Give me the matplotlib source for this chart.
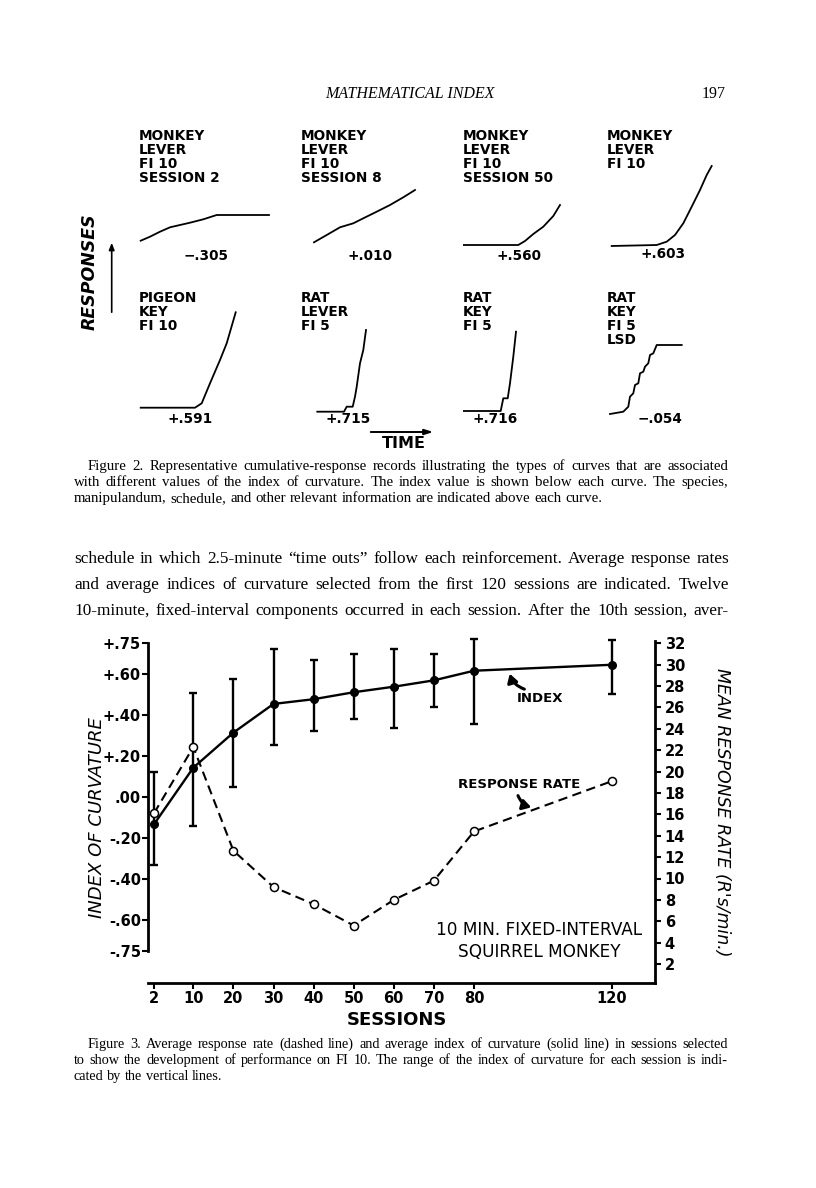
import numpy as np
import matplotlib
matplotlib.use("Agg")
import matplotlib.pyplot as plt
from matplotlib.patches import FancyArrowPatch

# ------------------------------------------------------------------ data
# Figure 3
sessions = [2, 10, 20, 30, 40, 50, 60, 70, 80, 120]
index_mean = [-0.133, 0.143, 0.314, 0.454, 0.477, 0.511, 0.538, 0.569, 0.616, 0.645]
index_high = [0.12, 0.506, 0.576, 0.72, 0.668, 0.696, 0.72, 0.696, 0.773, 0.766]
index_low = [-0.33, -0.14, 0.05, 0.254, 0.323, 0.379, 0.335, 0.44, 0.356, 0.502]
response_rate = [16.1, 22.3, 12.6, 9.2, 7.6, 5.6, 8.0, 9.8, 14.4, 19.1]

x_tick_labels = ["2", "10", "20", "30", "40", "50", "60", "70", "80", "120"]
left_ticks = [0.75, 0.60, 0.40, 0.20, 0.0, -0.20, -0.40, -0.60, -0.75]
left_tick_labels = ["+.75", "+.60", "+.40", "+.20", ".00", "-.20", "-.40", "-.60", "-.75"]
right_ticks = [2, 4, 6, 8, 10, 12, 14, 16, 18, 20, 22, 24, 26, 28, 30, 32]
right_tick_labels = [str(v) for v in right_ticks]

# Figure 2: cumulative records (time units, response units)
curve_1_t = [1.7, 11, 21, 31, 41, 51, 64.3, 77.7, 130]
curve_1_r = [5.3, 9.3, 14.3, 18.7, 21, 23.3, 26.7, 31, 31]
curve_2_t = [13, 25.7, 39, 52.3, 62.3, 75.7, 89, 102.3, 114]
curve_2_r = [3.7, 11, 18.7, 22.7, 27.7, 34.3, 41, 48.7, 56]
curve_3_t = [0.3, 55.3, 62, 70.3, 80.3, 90.3, 97]
curve_3_r = [1, 1, 5, 12, 19.3, 30, 41]
curve_4_t = [4.7, 49.7, 59.7, 68, 76.3, 84.7, 93, 99.7, 104.7]
curve_4_r = [0, 1, 4.3, 11, 22.7, 39.3, 56, 71, 80]
curve_5_t = [1.7, 56, 62.7, 71, 81, 87.7, 96.7]
curve_5_r = [4.3, 4.3, 8.7, 28.7, 52, 68.7, 99.7]
curve_6_t = [16.3, 43, 45.7, 51.7, 54, 55.7, 59, 62.3, 65]
curve_6_r = [0.3, 0.3, 5.3, 5.3, 15.3, 25.3, 48.7, 62, 82]
curve_7_t = [0.3, 37.7, 40.3, 44.7, 47, 50.3, 53]
curve_7_r = [1, 1, 13.7, 13.7, 28.7, 55.3, 80.3]
curve_8_t = [3, 16.3, 21.3, 23, 26.3, 28, 31.3, 33, 36.3, 38, 41.3, 43, 46.3, 49.7, 74.7]
curve_8_r = [-2, 0.3, 5.3, 15.3, 18.7, 27, 28.7, 38.7, 40.3, 45.3, 48.7, 57, 58.7, 67, 67]

panel_titles = [
    ["MONKEY", "LEVER", "FI 10", "SESSION 2"],
    ["MONKEY", "LEVER", "FI 10", "SESSION 8"],
    ["MONKEY", "LEVER", "FI 10", "SESSION 50"],
    ["MONKEY", "LEVER", "FI 10"],
    ["PIGEON", "KEY", "FI 10"],
    ["RAT", "LEVER", "FI 5"],
    ["RAT", "KEY", "FI 5"],
    ["RAT", "KEY", "FI 5", "LSD"],
]
panel_values = ["\u2212.305", "+.010", "+.560", "+.603", "+.591", "+.715", "+.716", "\u2212.054"]

header_title = "MATHEMATICAL INDEX"
page_number = "197"
caption_2 = [
    "Figure 2. Representative cumulative-response records illustrating the types of curves that are associated",
    "with different values of the index of curvature. The index value is shown below each curve. The species,",
    "manipulandum, schedule, and other relevant information are indicated above each curve.",
]
body_lines = [
    "schedule in which 2.5-minute \u201ctime outs\u201d follow each reinforcement. Average response rates",
    "and average indices of curvature selected from the first 120 sessions are indicated. Twelve",
    "10-minute, fixed-interval components occurred in each session. After the 10th session, aver-",
]
caption_3 = [
    "Figure 3. Average response rate (dashed line) and average index of curvature (solid line) in sessions selected",
    "to show the development of performance on FI 10. The range of the index of curvature for each session is indi-",
    "cated by the vertical lines.",
]

# ------------------------------------------------------------------ layout helpers
W, H = 816, 1188
fig = plt.figure(figsize=(W / 100, H / 100), dpi=100)
fig.patch.set_facecolor("white")
renderer = fig.canvas.get_renderer()

SANS = "DejaVu Sans"
SERIF = "Liberation Serif"


def fx(x):
    return x / W


def fy(y):
    return 1 - y / H


def ptext(x, y, s, **kw):
    return fig.text(fx(x), fy(y), s, **kw)


def measure(s, size):
    t = fig.text(0, 0, s, fontsize=size, family=SERIF)
    w = t.get_window_extent(renderer).width
    t.remove()
    return w


def text_block(lines, x_first, x_rest, x_right, y0, dy, n_justified, fill=0.965):
    # choose the size so the justified lines nearly fill the measure
    base = 10.0
    ratios = []
    for i in range(n_justified):
        x0 = x_first if i == 0 else x_rest
        ratios.append(measure(lines[i], base) / (x_right - x0))
    size = base * fill / max(ratios)
    sp = measure("a a", size) - measure("aa", size)
    for i, line in enumerate(lines):
        x0 = x_first if i == 0 else x_rest
        words = line.split(" ")
        arts = [fig.text(0, 0, w, fontsize=size, family=SERIF, va="baseline", ha="left")
                for w in words]
        widths = [a.get_window_extent(renderer).width for a in arts]
        if i >= n_justified or len(arts) < 2:
            gap = sp
        else:
            gap = (x_right - x0 - sum(widths)) / (len(arts) - 1)
        x = x0
        for a, w in zip(arts, widths):
            a.set_position((fx(x), fy(y0 + i * dy)))
            x += w + gap


# ------------------------------------------------------------------ page header
ptext(410, 98, header_title, fontsize=11.5, family=SERIF, style="italic", ha="center", va="baseline")
ptext(726, 98, page_number, fontsize=11.5, family=SERIF, ha="right", va="baseline")

# ------------------------------------------------------------------ Figure 2
curves = [
    (curve_1_t, curve_1_r), (curve_2_t, curve_2_r), (curve_3_t, curve_3_r), (curve_4_t, curve_4_r),
    (curve_5_t, curve_5_r), (curve_6_t, curve_6_r), (curve_7_t, curve_7_r), (curve_8_t, curve_8_r),
]
col_left = [139, 301, 463, 607]
row_base = [246, 412]
row_title_top = [136, 298]
value_x = [206, 370, 519, 663, 190, 348, 495, 660]
value_y = [256, 256, 256, 254, 419, 419, 419, 419]

for i, (t, r) in enumerate(curves):
    L = col_left[i % 4]
    B = row_base[i // 4]
    pax = fig.add_axes([fx(L), fy(B + 5), 140 / W, 110 / H])
    pax.plot(t, r, color="black", lw=1.3)
    pax.set_xlim(0, 140)
    pax.set_ylim(-5, 105)
    pax.axis("off")
    for k, line in enumerate(panel_titles[i]):
        ptext(L, row_title_top[i // 4] + 14 * k, line, fontsize=9.8, family=SANS,
              weight="bold", ha="left", va="center")
    ptext(value_x[i], value_y[i], panel_values[i], fontsize=9.8, family=SANS,
          weight="bold", ha="center", va="center")

ptext(90, 272, "RESPONSES", fontsize=12.5, family=SANS, weight="bold", style="italic",
      rotation=90, ha="center", va="center")
fig.add_artist(FancyArrowPatch((fx(111.7), fy(315)), (fx(111.7), fy(240)), transform=fig.transFigure,
                               arrowstyle="-|>,head_length=4,head_width=1.6", lw=1.2, color="black"))
fig.add_artist(FancyArrowPatch((fx(368), fy(432)), (fx(436), fy(432)), transform=fig.transFigure,
                               arrowstyle="-|>,head_length=5,head_width=1.6", lw=1.4, color="black"))
ptext(404, 444, "TIME", fontsize=11.5, family=SANS, weight="bold", ha="center", va="center")

text_block(caption_2, 88, 74, 728, 470, 16, 2)
text_block(body_lines, 74, 74, 729, 563, 26, 3, fill=0.975)

# ------------------------------------------------------------------ Figure 3
AX_L, AX_R, AX_T, AX_B = 148, 655, 635, 983
ax = fig.add_axes([fx(AX_L), fy(AX_B), (AX_R - AX_L) / W, (AX_B - AX_T) / H])

# session axis: printed spacing is not uniform -> piecewise-linear scale
scale_sessions = [2, 10, 80, 120]
scale_dist = [6.0, 45.3, 326.0, 463.7]
s0 = (scale_dist[1] - scale_dist[0]) / (scale_sessions[1] - scale_sessions[0])
s1 = (scale_dist[-1] - scale_dist[-2]) / (scale_sessions[-1] - scale_sessions[-2])
S_ext = [scale_sessions[0] - 1e4] + scale_sessions + [scale_sessions[-1] + 1e4]
P_ext = [scale_dist[0] - 1e4 * s0] + scale_dist + [scale_dist[-1] + 1e4 * s1]


def fwd(x):
    return np.interp(x, S_ext, P_ext)


def inv(p):
    return np.interp(p, P_ext, S_ext)


ax.set_xscale("function", functions=(fwd, inv))
ax.set_xlim(inv(0.0), inv(AX_R - AX_L))
left_px_per_unit = 205.0
left_zero_px = 797.0
ax.set_ylim((left_zero_px - AX_B) / left_px_per_unit, (left_zero_px - AX_T) / left_px_per_unit)

mean = np.array(index_mean)
yerr = [mean - np.array(index_low), np.array(index_high) - mean]
ax.errorbar(sessions, index_mean, yerr=yerr, fmt="-o", color="black", lw=1.7, elinewidth=1.7,
            capsize=3.0, capthick=1.7, ms=5.5, zorder=3)

ax2 = ax.twinx()
right_px_per_unit = 10.69
right_zero_px = 985.4
ax2.set_ylim((right_zero_px - AX_B) / right_px_per_unit, (right_zero_px - AX_T) / right_px_per_unit)
ax2.plot(sessions, response_rate, color="black", lw=1.5, ls=(0, (4.5, 2.6)), marker="o", ms=5.8,
         mfc="white", mec="black", mew=1.1, zorder=4)

for a in (ax, ax2):
    a.set_facecolor("none")
    for s in a.spines.values():
        s.set_visible(False)
ax.spines["left"].set_visible(True)
ax.spines["bottom"].set_visible(True)
ax2.spines["right"].set_visible(True)
ax.spines["left"].set_bounds(-0.75, 0.75)
ax2.spines["right"].set_bounds(ax2.get_ylim()[0], 32.2)
for s in (ax.spines["left"], ax.spines["bottom"], ax2.spines["right"]):
    s.set_linewidth(2.0)

ax.set_xticks(sessions)
ax.set_xticklabels(x_tick_labels)
ax.xaxis.set_minor_locator(matplotlib.ticker.NullLocator())
ax.set_yticks(left_ticks)
ax.set_yticklabels(left_tick_labels)
ax2.set_yticks(right_ticks)
ax2.set_yticklabels(right_tick_labels)

ax.tick_params(axis="x", direction="out", length=4, width=1.5, labelsize=10.5, pad=2)
ax.tick_params(axis="y", direction="out", length=4, width=1.5, labelsize=10.5, pad=1)
ax2.tick_params(axis="y", direction="out", length=4, width=1.5, labelsize=10.5, pad=3)
for lab in ax.get_xticklabels() + ax.get_yticklabels() + ax2.get_yticklabels():
    lab.set_fontweight("bold")
    lab.set_family(SANS)

ptext(97, 818, "INDEX OF CURVATURE", fontsize=13, family=SANS, style="italic", rotation=90,
      ha="center", va="center")
ptext(722, 812, "MEAN RESPONSE RATE (R's/min.)", fontsize=12.5, family=SANS, style="italic",
      rotation=270, ha="center", va="center")
ptext(397, 1020, "SESSIONS", fontsize=13, family=SANS, weight="bold", ha="center", va="center")

ptext(540, 698, "INDEX", fontsize=9.5, family=SANS, weight="bold", ha="center", va="center")
fig.add_artist(FancyArrowPatch((fx(527), fy(690)), (fx(509), fy(671)), transform=fig.transFigure,
                               connectionstyle="arc3,rad=-0.3",
                               arrowstyle="-|>,head_length=5,head_width=3", lw=2.2, color="black"))
ptext(519, 785, "RESPONSE RATE", fontsize=9.5, family=SANS, weight="bold", ha="center", va="center")
fig.add_artist(FancyArrowPatch((fx(517), fy(793)), (fx(534), fy(808)), transform=fig.transFigure,
                               connectionstyle="arc3,rad=0.3",
                               arrowstyle="-|>,head_length=5,head_width=3", lw=2.2, color="black"))
ptext(539, 930, "10 MIN. FIXED-INTERVAL", fontsize=12.2, family=SANS, ha="center", va="center")
ptext(539, 952, "SQUIRREL MONKEY", fontsize=12.2, family=SANS, ha="center", va="center")

text_block(caption_3, 88, 74, 728, 1048, 16, 2)

fig.savefig("out.png", dpi=100, facecolor="white")
